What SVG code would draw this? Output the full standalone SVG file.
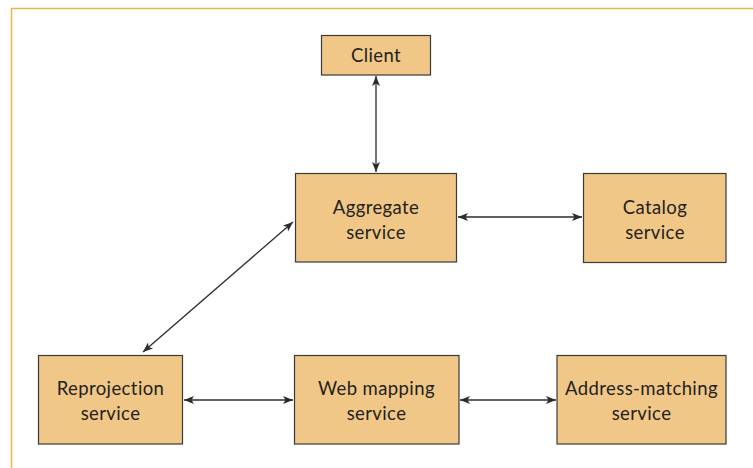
<svg xmlns="http://www.w3.org/2000/svg" width="753" height="468" viewBox="0 0 753 468">
  <defs>
    <style>
      .box { fill: #f0c787; stroke: #3a3a3a; stroke-width: 1.2; }
      .lbl { font-family: "Lato", "Open Sans", sans-serif; font-size: 18.5px; letter-spacing: 0.4px; fill: #231f20; text-anchor: middle; }
      .link { stroke: #2b2b2b; stroke-width: 1.3; fill: none; marker-start: url(#head); marker-end: url(#head); }
    </style>
    <marker id="head" viewBox="0 0 10 8" refX="10" refY="4" markerWidth="10" markerHeight="8" markerUnits="userSpaceOnUse" orient="auto-start-reverse">
      <path d="M0,0 L10,4 L0,8 L2.5,4 Z" fill="#2b2b2b"/>
    </marker>
  </defs>

  <rect width="753" height="468" fill="#ffffff"/>
  <!-- frame -->
  <path d="M11.5,468 V8.5 H753" fill="none" stroke="#e8b64c" stroke-width="1.5"/>

  <g id="connectors">
    <line class="link" x1="376" y1="76" x2="376" y2="172"/>
    <line class="link" x1="458" y1="217" x2="582" y2="217"/>
    <line class="link" x1="143" y1="352" x2="293" y2="222"/>
    <line class="link" x1="184" y1="400" x2="293" y2="400"/>
    <line class="link" x1="460" y1="400" x2="556" y2="400"/>
  </g>

  <g id="client">
    <rect class="box" x="321.5" y="35.5" width="109" height="39.5"/>
    <text class="lbl" x="376" y="61.5">Client</text>
  </g>

  <g id="aggregate">
    <rect class="box" x="295.5" y="173.5" width="161" height="88.5"/>
    <text class="lbl" x="376" y="213.5">Aggregate</text>
    <text class="lbl" x="376" y="238.5">service</text>
  </g>

  <g id="catalog">
    <rect class="box" x="583.5" y="173.5" width="142.5" height="89"/>
    <text class="lbl" x="655" y="213.5">Catalog</text>
    <text class="lbl" x="655" y="238.5">service</text>
  </g>

  <g id="reprojection">
    <rect class="box" x="38.5" y="355.5" width="144" height="88.5"/>
    <text class="lbl" x="110.5" y="394.5">Reprojection</text>
    <text class="lbl" x="110.5" y="419.5">service</text>
  </g>

  <g id="web-mapping">
    <rect class="box" x="294.5" y="355.5" width="164.5" height="88.5"/>
    <text class="lbl" x="376.5" y="394.5">Web mapping</text>
    <text class="lbl" x="376.5" y="419.5">service</text>
  </g>

  <g id="address-matching">
    <rect class="box" x="557" y="355.5" width="169" height="88.5"/>
    <text class="lbl" x="641.5" y="394.5">Address-matching</text>
    <text class="lbl" x="641.5" y="419.5">service</text>
  </g>
</svg>
